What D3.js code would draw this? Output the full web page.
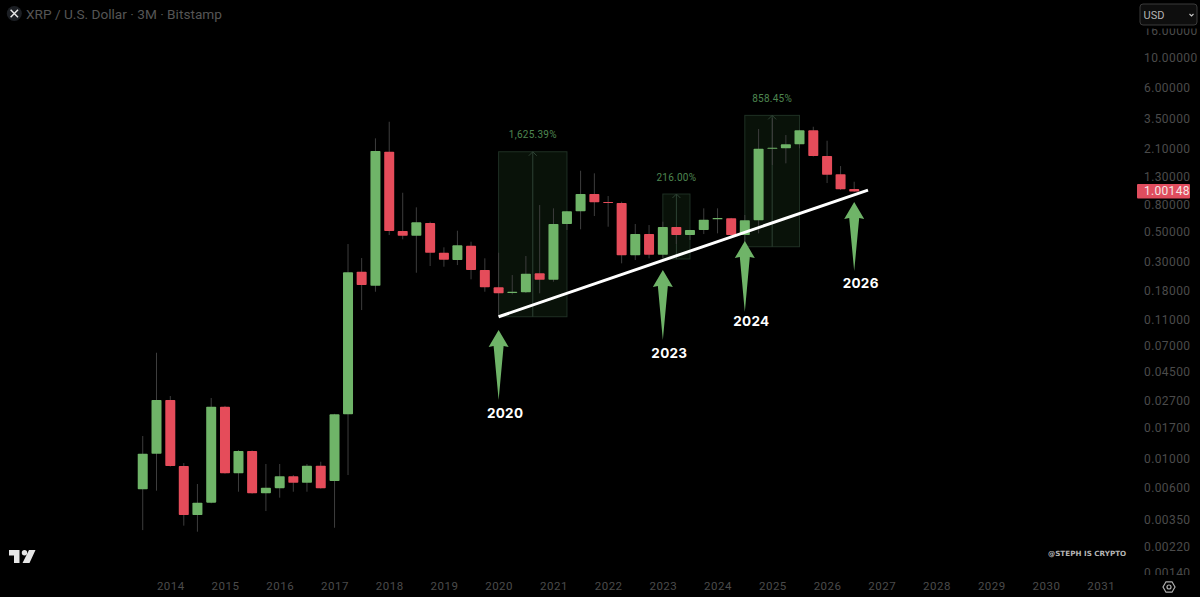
<!DOCTYPE html>
<html>
<head>
<meta charset="utf-8">
<script src="https://cdn.jsdelivr.net/npm/d3@7"></script>
<style>
  html, body { margin: 0; padding: 0; background: #000; overflow: hidden; }
  svg { display: block; }
  text { font-family: Roboto, "Noto Sans", sans-serif; }
</style>
</head>
<body>
<svg id="chart" width="1200" height="597"></svg>
<script>
// quarterly candles
var quarters = ["2013-07","2013-10",
  "2014-01","2014-04","2014-07","2014-10","2015-01","2015-04","2015-07","2015-10",
  "2016-01","2016-04","2016-07","2016-10","2017-01","2017-04","2017-07","2017-10",
  "2018-01","2018-04","2018-07","2018-10","2019-01","2019-04","2019-07","2019-10",
  "2020-01","2020-04","2020-07","2020-10","2021-01","2021-04","2021-07","2021-10",
  "2022-01","2022-04","2022-07","2022-10","2023-01","2023-04","2023-07","2023-10",
  "2024-01","2024-04","2024-07","2024-10","2025-01","2025-04","2025-07","2025-10",
  "2026-01","2026-04","2026-07"];
var opens = [0.00588,0.01086,
  0.02742,0.00879,0.00377,0.00467,0.02443,0.00775,0.01138,0.00549,
  0.00600,0.00736,0.00659,0.00883,0.00678,0.02143,0.2508,0.1970,
  1.986,0.5059,0.4666,0.5808,0.3480,0.3069,0.3927,0.2582,
  0.1916,0.1737,0.1758,0.2439,0.2184,0.5710,0.7108,0.9578,
  0.8344,0.8202,0.3327,0.4804,0.3362,0.5421,0.4722,0.5148,
  0.6193,0.6301,0.4722,0.6087,2.092,2.107,2.257,2.873,
  1.845,1.346,1.044];
var closes = [0.01086,0.02742,
  0.00879,0.00377,0.00467,0.02443,0.00775,0.01138,0.00549,0.00604,
  0.00736,0.00659,0.00883,0.00598,0.02143,0.2482,0.1993,2.011,
  0.5059,0.4666,0.5878,0.3480,0.3085,0.3954,0.2582,0.1916,
  0.1728,0.1776,0.2422,0.2184,0.5710,0.7108,0.9578,0.8299,
  0.8202,0.3327,0.4804,0.3362,0.5421,0.4722,0.5148,0.6151,
  0.6333,0.4722,0.6087,2.092,2.128,2.257,2.873,1.845,
  1.336,1.039,1.00148];
var highs = [0.01474,0.0620,
  0.0294,0.00925,0.00644,0.0284,0.0248,0.01158,0.0115,0.00910,
  0.00910,0.00752,0.00910,0.00946,0.0216,0.4043,0.3176,2.503,
  3.333,0.9795,0.7614,0.5942,0.3820,0.5086,0.4207,0.3160,
  0.3480,0.2368,0.3288,0.7921,0.7484,0.7150,1.432,1.369,
  0.9253,0.8386,0.5710,0.5611,0.5942,0.5450,0.5170,0.7484,
  0.7484,0.635,0.6668,2.939,3.553,2.650,2.90,3.058,
  2.402,1.552,1.184];
var lows = [0.00291,0.00574,
  0.0087,0.00314,0.00283,0.00462,0.0077,0.00564,0.00545,0.00404,
  0.00509,0.00564,0.00564,0.00595,0.00303,0.00752,0.1295,0.1776,
  0.4722,0.4385,0.2465,0.2767,0.2734,0.2814,0.2200,0.1776,
  0.1154,0.1698,0.1737,0.1728,0.2110,0.5148,0.5211,0.6553,
  0.5448,0.2898,0.3069,0.3160,0.3176,0.4043,0.4333,0.4804,
  0.4863,0.4586,0.4113,0.4863,1.579,1.626,2.107,1.83,
  1.158,1.026,0.993];

var priceTicks = [16,10,6,3.5,2.1,1.3,0.8,0.5,0.3,0.18,0.11,0.07,0.045,0.027,0.017,0.01,0.006,0.0035,0.0022,0.0014];
var yearTicks = ["2014","2015","2016","2017","2018","2019","2020","2021","2022","2023","2024","2025","2026","2027","2028","2029","2030","2031"];

// long position boxes
var boxStarts = ["2020-01","2023-01","2024-07"];
var boxEnds = ["2021-04","2023-07","2025-07"];
var boxTops = [1.986,0.9578,3.72];
var boxBottoms = [0.1154,0.3125,0.386];
var boxLabels = ["1,625.39%","216.00%","858.45%"];

// trend line
var trendDates = ["2020-01","2026-10"];
var trendPrices = [0.1154,1.026];

// arrows and their years
var arrowDates = ["2020-01","2023-01","2024-07","2026-07"];
var arrowTips = [0.0918,0.2582,0.4258,0.8344];
var arrowTails = [0.0274,0.0772,0.1252,0.2539];
var arrowLabels = ["2020","2023","2024","2026"];
var arrowLabelPrices = [0.0201,0.0566,0.0983,0.1893];

var lastPrice = 1.00148;

var GREEN = "#6fb468", RED = "#e54c5a", AXIS = "#4b4b4b";

var parseDate = d3.utcParse("%Y-%m");
var svg = d3.select("#chart");

var x = d3.scaleUtc()
  .domain([parseDate("2014-01"), parseDate("2031-01")])
  .range([170.3, 1100.7]);

var y = d3.scaleLog()
  .domain([16, 0.0014])
  .range([30.8, 572.5]);

// top and bottom price labels get cut
svg.append("defs").append("clipPath").attr("id", "axisClip")
  .append("rect").attr("x", 1130).attr("y", 28.5).attr("width", 70).attr("height", 546.5);

// long position boxes go under the candles
var boxes = svg.append("g");
boxStarts.forEach(function(start, i) {
  var x0 = x(parseDate(start)), x1 = x(parseDate(boxEnds[i])), xm = (x0 + x1) / 2;
  var top = y(boxTops[i]), bottom = y(boxBottoms[i]);
  boxes.append("rect")
    .attr("x", x0).attr("y", top)
    .attr("width", x1 - x0).attr("height", bottom - top)
    .attr("fill", "#091209").attr("stroke", "#1f3024").attr("stroke-width", 1);
  boxes.append("line")
    .attr("x1", xm).attr("x2", xm).attr("y1", top).attr("y2", bottom)
    .attr("stroke", "#2e4234");
  boxes.append("path")
    .attr("d", "M" + (xm - 4) + "," + (top + 4) + "L" + xm + "," + top + "L" + (xm + 4) + "," + (top + 4))
    .attr("fill", "none").attr("stroke", "#2e4234");
  boxes.append("text")
    .attr("x", xm).attr("y", top - 13.5)
    .attr("text-anchor", "middle")
    .attr("fill", "#4e8650").attr("font-size", 10).attr("letter-spacing", 0.25)
    .text(boxLabels[i]);
});

// candles
var candles = svg.append("g").selectAll("g")
  .data(quarters)
  .join("g");

candles.append("line")
  .attr("x1", function(d) { return x(parseDate(d)); })
  .attr("x2", function(d) { return x(parseDate(d)); })
  .attr("y1", function(d, i) { return y(highs[i]); })
  .attr("y2", function(d, i) { return y(lows[i]); })
  .attr("stroke", "#3d3d3d").attr("stroke-width", 1);

candles.append("rect")
  .attr("x", function(d) { return x(parseDate(d)) - 5; })
  .attr("width", 10)
  .attr("y", function(d, i) { return y(Math.max(opens[i], closes[i])); })
  .attr("height", function(d, i) { return Math.max(1, Math.abs(y(opens[i]) - y(closes[i]))); })
  .attr("rx", 0.8)
  .attr("fill", function(d, i) { return closes[i] >= opens[i] ? GREEN : RED; });

// trend line
svg.append("line")
  .attr("x1", x(parseDate(trendDates[0]))).attr("y1", y(trendPrices[0]))
  .attr("x2", x(parseDate(trendDates[1]))).attr("y2", y(trendPrices[1]))
  .attr("stroke", "#fff").attr("stroke-width", 3);

// arrows with the year under them
arrowDates.forEach(function(date, i) {
  var ax = x(parseDate(date)), tip = y(arrowTips[i]), tail = y(arrowTails[i]);
  var p = d3.path();
  p.moveTo(ax, tip);
  p.lineTo(ax + 10, tip + 17);
  p.lineTo(ax + 5, tip + 16);
  p.lineTo(ax, tail);
  p.lineTo(ax - 5, tip + 16);
  p.lineTo(ax - 10, tip + 17);
  p.closePath();
  svg.append("path").attr("d", p.toString()).attr("fill", GREEN);
  svg.append("text")
    .attr("x", ax + 6.5).attr("y", y(arrowLabelPrices[i]))
    .attr("text-anchor", "middle")
    .attr("fill", "#fff").attr("font-size", 13.5).attr("font-weight", 700)
    .attr("letter-spacing", 0.3)
    .style("font-family", "Inter, sans-serif")
    .text(arrowLabels[i]);
});

// price axis
var yAxis = d3.axisRight(y)
  .tickValues(priceTicks)
  .tickSize(0)
  .tickPadding(0)
  .tickFormat(d3.format(".5f"));

var yg = svg.append("g")
  .attr("clip-path", "url(#axisClip)")
  .append("g")
  .attr("transform", "translate(1144,0)")
  .call(yAxis);
yg.select(".domain").remove();
yg.selectAll("text")
  .attr("fill", AXIS).attr("font-size", 12).attr("letter-spacing", 0.4)
  .style("font-family", "Roboto, sans-serif");

// time axis
var xAxis = d3.axisBottom(x)
  .tickValues(yearTicks.map(function(d) { return parseDate(d + "-01"); }))
  .tickSize(0)
  .tickPadding(0)
  .tickFormat(d3.utcFormat("%Y"));

var xg = svg.append("g")
  .attr("transform", "translate(0,582)")
  .call(xAxis);
xg.select(".domain").remove();
xg.selectAll("text")
  .attr("fill", AXIS).attr("font-size", 11.5).attr("letter-spacing", 0.5)
  .style("font-family", "Roboto, sans-serif");

// last price tag
svg.append("rect")
  .attr("x", 1137).attr("y", y(lastPrice) - 7.5)
  .attr("width", 53).attr("height", 14.5).attr("rx", 1)
  .attr("fill", "#e04d5e");
svg.append("text")
  .attr("x", 1144).attr("y", y(lastPrice) + 4)
  .attr("fill", "#f4e6e6").attr("font-size", 12).attr("letter-spacing", 0.3)
  .text(d3.format(".5f")(lastPrice));

// header
var head = svg.append("g");
head.append("circle").attr("cx", 14.3).attr("cy", 13.5).attr("r", 7.5).attr("fill", "#1c1f24");
head.append("path")
  .attr("d", "M10.6,9.8L18,17.2M18,9.8L10.6,17.2")
  .attr("stroke", "#e8e8e8").attr("stroke-width", 1.5).attr("fill", "none");
head.append("text")
  .attr("x", 26).attr("y", 19)
  .attr("fill", "#555").attr("font-size", 13.65)
  .text("XRP / U.S. Dollar \u00b7 3M \u00b7 Bitstamp");

// currency box
svg.append("rect")
  .attr("x", 1140).attr("y", 4).attr("width", 57).attr("height", 21).attr("rx", 3)
  .attr("fill", "#0e0e0e").attr("stroke", "#3a3a3a");
svg.append("text")
  .attr("x", 1143.5).attr("y", 18.5)
  .attr("fill", "#b4b4b4").attr("font-size", 11)
  .text("USD");
svg.append("path")
  .attr("d", "M1189.5,14L1191.5,16L1193.5,14")
  .attr("fill", "none").attr("stroke", "#c8c8c8").attr("stroke-width", 1.1);

// tradingview logo
svg.append("path")
  .attr("d", "M9,550H19.5V563H14V555.5H9Z M29,550H35.5L29.5,563H22.5Z")
  .attr("fill", "#e6e6e6");
svg.append("circle").attr("cx", 24.5).attr("cy", 552.7).attr("r", 2.7).attr("fill", "#e6e6e6");

// watermark
svg.append("text")
  .attr("x", 1048).attr("y", 555.5)
  .attr("fill", "#b5b5b5").attr("font-size", 7.2).attr("font-weight", 700)
  .style("font-family", "'DejaVu Sans', sans-serif")
  .text("@STEPH IS CRYPTO");

// settings icon
svg.append("path")
  .attr("d", "M1163,587L1166,581.8H1172L1175,587L1172,592.2H1166Z")
  .attr("fill", "none").attr("stroke", "#b0b0b0").attr("stroke-width", 1.2);
svg.append("circle").attr("cx", 1169).attr("cy", 587).attr("r", 2)
  .attr("fill", "none").attr("stroke", "#b0b0b0").attr("stroke-width", 1.2);
</script>
</body>
</html>
